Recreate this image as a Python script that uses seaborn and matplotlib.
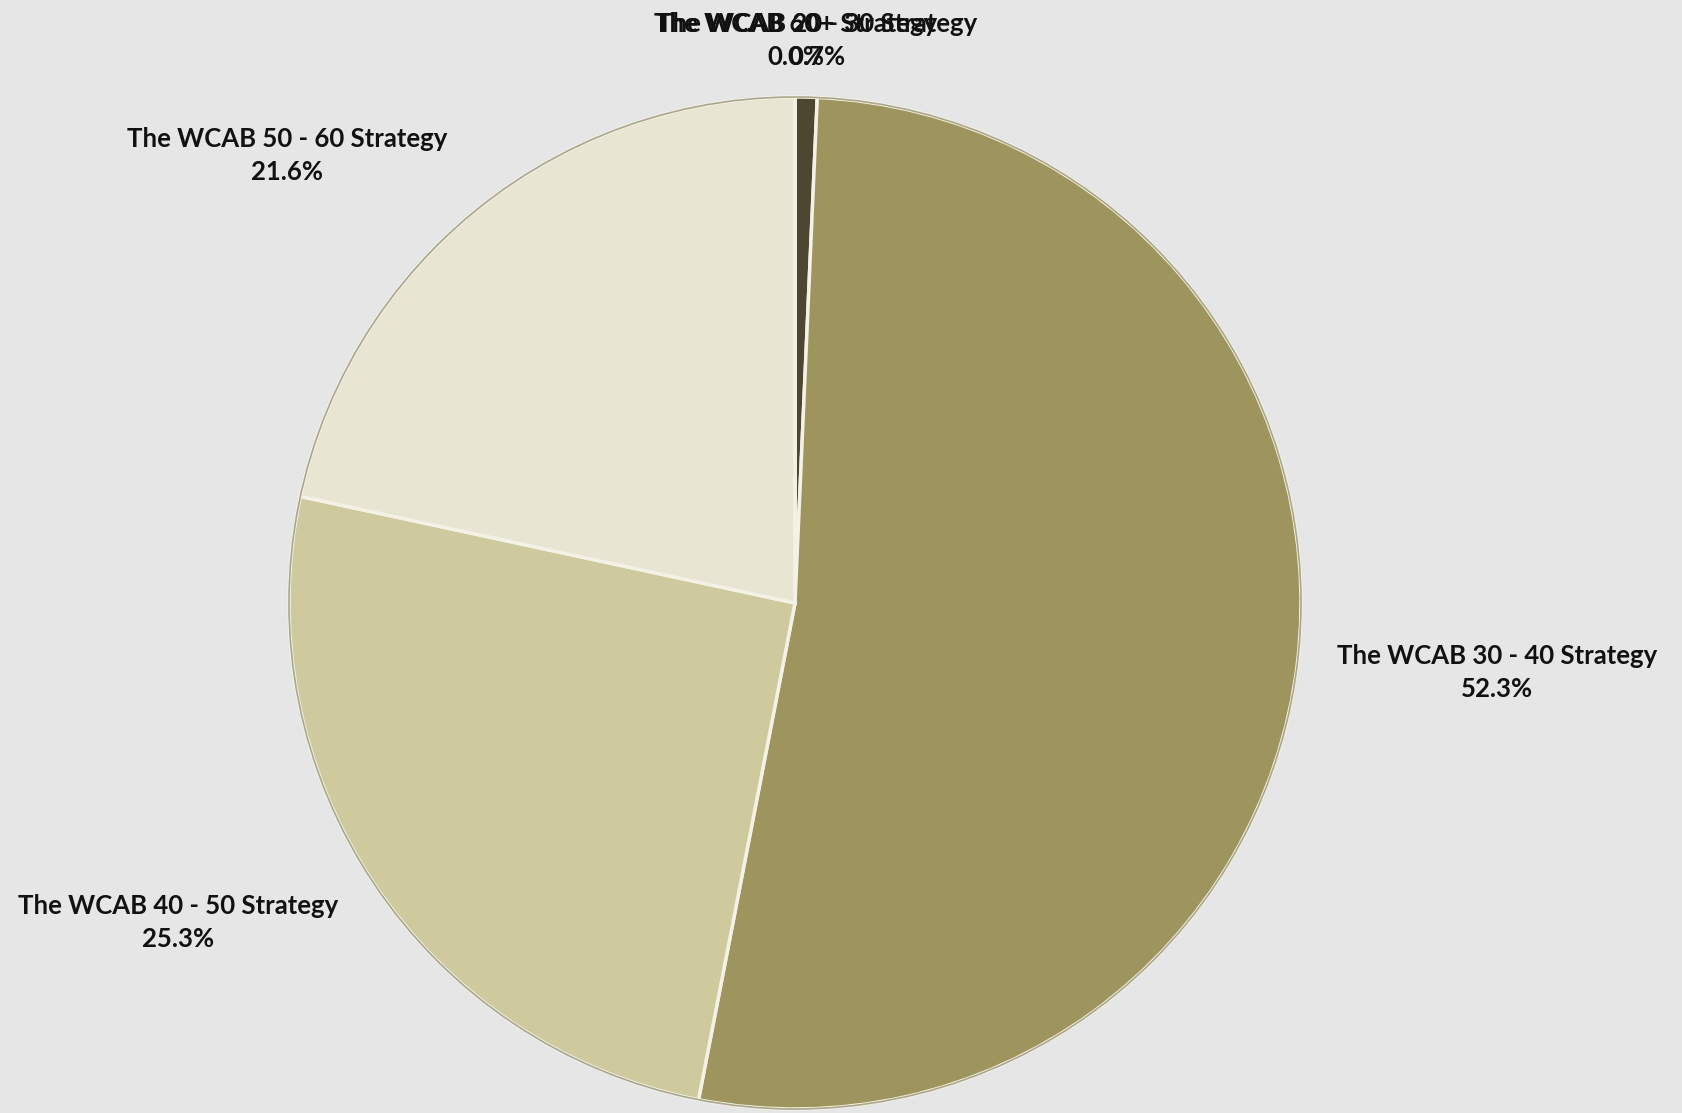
import matplotlib
matplotlib.use("Agg")
import matplotlib.pyplot as plt
import seaborn as sns
import numpy as np

sns.set_theme(style="white")
plt.rcParams['font.family'] = ['Lato', 'DejaVu Sans']

categories = ["The WCAB 20 - 30 Strategy", "The WCAB 30 - 40 Strategy",
              "The WCAB 40 - 50 Strategy", "The WCAB 50 - 60 Strategy",
              "The WCAB 60+ Strategy"]
values = [0.7, 52.3, 25.3, 21.6, 0.0]
pct_labels = ["0.7%", "52.3%", "25.3%", "21.6%", "0.0%"]
colors = ["#4d4630", "#9e955e", "#cfc99e", "#e8e5d3", "#4d4630"]

# label anchor positions (in pie radius units, pie centred at 0,0)
label_pos = [(0.044, 1.112), (1.388, -0.1375), (-1.219, -0.631), (-1.003, 0.884), (0.002, 1.112)]

bg = "#e6e6e6"
fig = plt.figure(figsize=(16.82, 11.13), dpi=100, facecolor=bg)
ax = fig.add_axes([0, 0, 1, 1])
ax.set_facecolor(bg)

wedges, _ = ax.pie(values, colors=colors, startangle=90, counterclock=False,
                   radius=1.0, center=(0, 0),
                   wedgeprops=dict(edgecolor="#f4f2e6", linewidth=2.5))
ax.add_patch(plt.Circle((0, 0), 1.0, fill=False, edgecolor="#7a7450", linewidth=1.2, alpha=0.6))

for cat, pct, (x, y) in zip(categories, pct_labels, label_pos):
    ax.text(x, y, f"{cat}\n{pct}", ha="center", va="center", fontsize=18.5,
            fontweight="bold", color="#111111", linespacing=1.45)

ax.set_xlim(-795 / 506, 887 / 506)
ax.set_ylim(-510 / 506, 603 / 506)
ax.set_aspect("equal")
ax.axis("off")

fig.savefig("out.png", dpi=100, facecolor=bg)
